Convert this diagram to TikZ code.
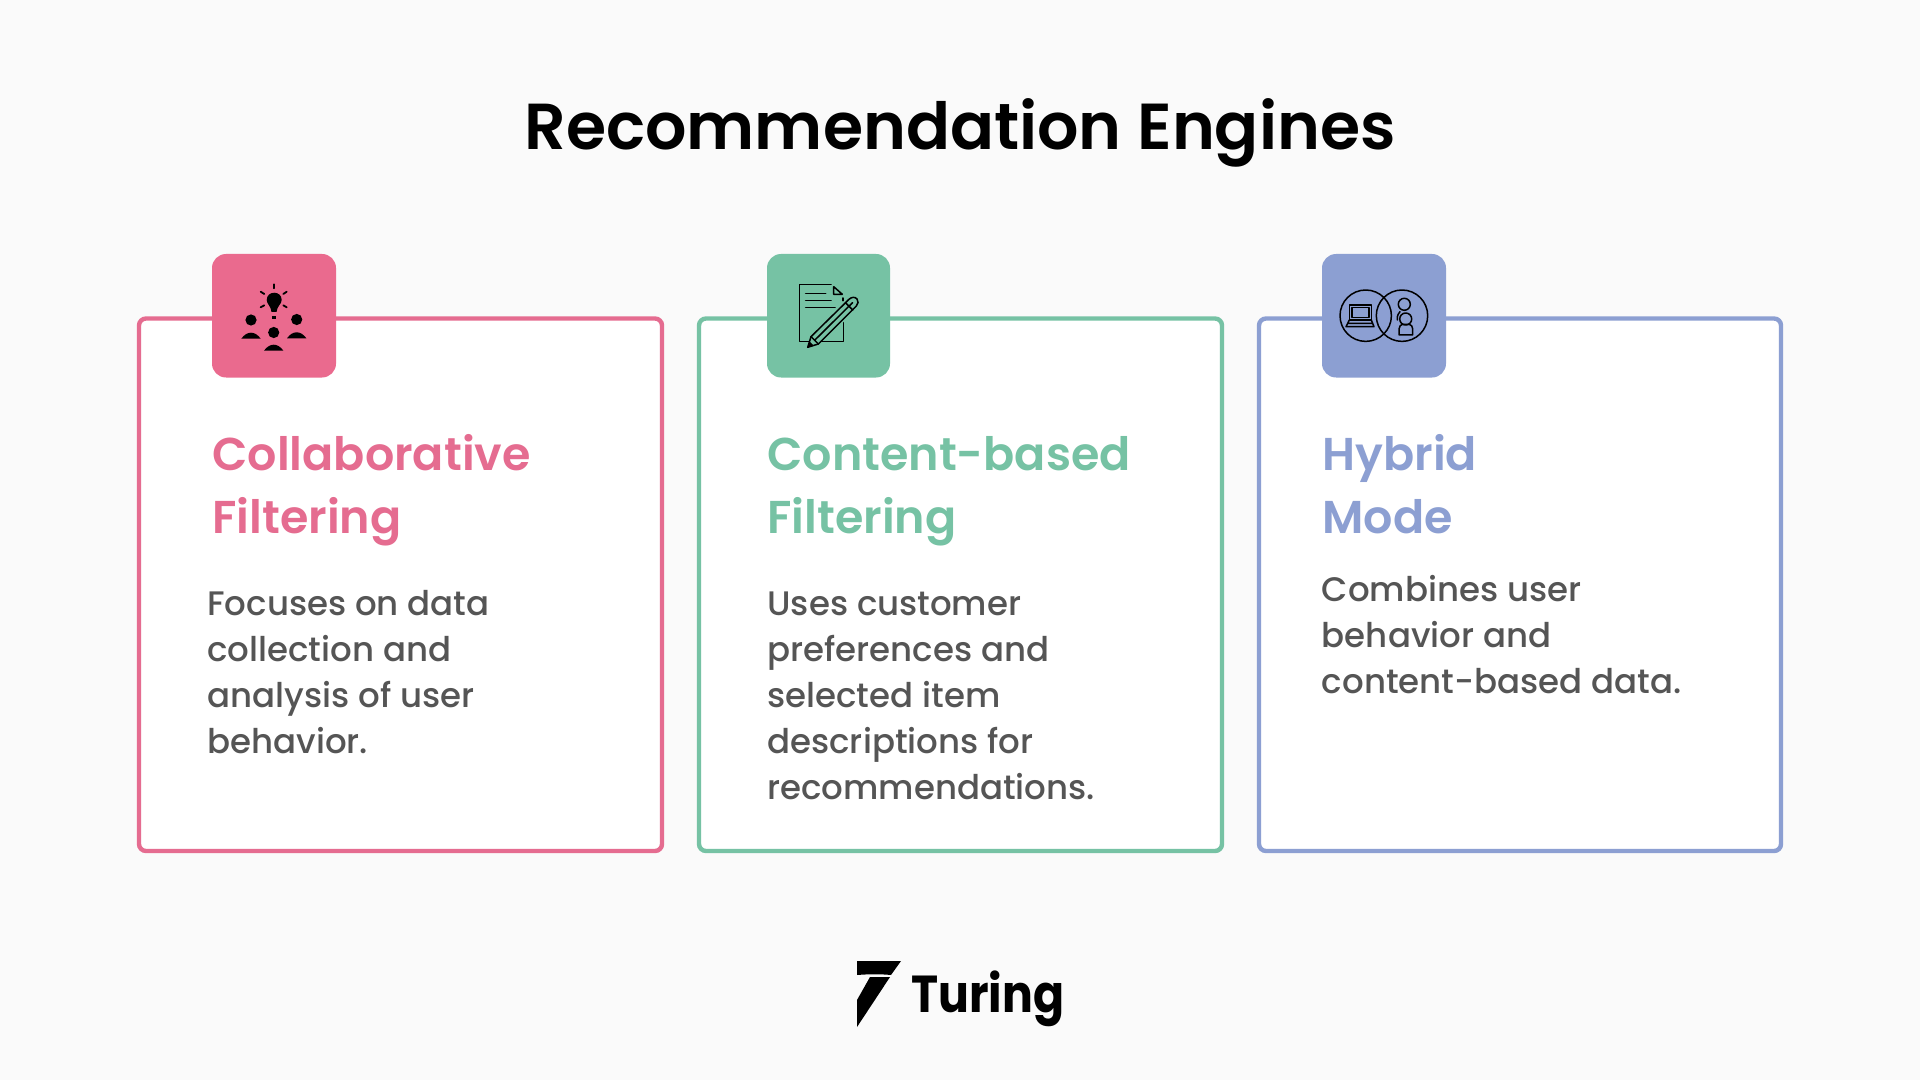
\documentclass[tikz,border=0pt]{standalone}
\usepackage{fontspec}
\setmainfont{Poppins}
\newfontfamily\semibold{Poppins SemiBold}
\newfontfamily\medium{Poppins Medium}
\newfontfamily\logofont[FakeStretch=0.88]{Poppins Bold}
\definecolor{bgcol}{HTML}{FAFAFA}
\definecolor{pinkcol}{HTML}{E56C90}
\definecolor{pinkbox}{HTML}{EA6A8E}
\definecolor{greencol}{HTML}{76C2A4}
\definecolor{bluecol}{HTML}{8C9FD2}
\definecolor{bodycol}{HTML}{555555}
\tikzset{
	cardbox/.style={fill=white,line width=2.2pt,rounded corners=3.5pt},
	iconbox/.style={rounded corners=7pt},
	headtext/.style={anchor=base west,inner sep=0pt,font=\semibold\fontsize{23}{26}\selectfont,align=left},
	bodytext/.style={anchor=base west,inner sep=0pt,font=\medium\fontsize{17}{23}\selectfont,text=bodycol,align=left},
	iconline/.style={line width=0.75pt,line join=round,line cap=round},
}
\begin{document}
\begin{tikzpicture}[x=0.5pt,y=-0.5pt]
	\useasboundingbox (0,0) rectangle (1920,1080);
	\fill[bgcol] (0,0) rectangle (1920,1080);
	\node[anchor=base,inner sep=0pt,font=\semibold\fontsize{32.5}{36}\selectfont] (title) at (960,150) {Recommendation Engines};
	% cards
	\draw[cardbox,draw=pinkcol] (139,318.5) rectangle (662,851);
	\draw[cardbox,draw=greencol] (699,318.5) rectangle (1222,851);
	\draw[cardbox,draw=bluecol] (1259,318.5) rectangle (1781,851);
	\fill[iconbox,pinkbox] (212,254) rectangle (336,377.5);
	\fill[iconbox,greencol] (767,254) rectangle (890,377.5);
	\fill[iconbox,bluecol] (1322,254) rectangle (1446,377.5);
	% headings
	\node[headtext,text=pinkcol] (headone) at (212,470) {Collaborative};
	\node[headtext,text=pinkcol] (headoneb) at (212,533) {Filtering};
	\node[headtext,text=greencol] (headtwo) at (767,470) {Content-based};
	\node[headtext,text=greencol] (headtwob) at (767,533) {Filtering};
	\node[headtext,text=bluecol] (headthree) at (1322,470) {Hybrid};
	\node[headtext,text=bluecol] (headthreeb) at (1322,533) {Mode};
	% body text
	\node[bodytext] (bodyone) at (207,615) {Focuses on data};
	\node[bodytext] (bodyoneb) at (207,661) {collection and};
	\node[bodytext] (bodyonec) at (207,707) {analysis of user};
	\node[bodytext] (bodyoned) at (207,753) {behavior.};
	\node[bodytext] (bodytwo) at (767,615) {Uses customer};
	\node[bodytext] (bodytwob) at (767,661) {preferences and};
	\node[bodytext] (bodytwoc) at (767,707) {selected item};
	\node[bodytext] (bodytwod) at (767,753) {descriptions for};
	\node[bodytext] (bodytwoe) at (767,799) {recommendations.};
	\node[bodytext] (bodythree) at (1321.5,601) {Combines user};
	\node[bodytext] (bodythreeb) at (1321.5,647) {behavior and};
	\node[bodytext] (bodythreec) at (1321.5,693) {content-based data.};
	% icon one: bulb and people
	\fill (266.7,300) .. controls (266.7,290.3) and (281.7,290.3) .. (281.7,300) .. controls (281.7,304) and (277,306) .. (276.5,312) -- (271.5,312) .. controls (271,306) and (266.7,304) .. (266.7,300) -- cycle;
	\fill (271.5,316) rectangle (276,319.5);
	\foreach \a/\b/\c/\d in {274/284.3/274/288.3, 260.7/291.7/264.3/294, 286.7/291.7/283.3/294, 260.7/307.3/264.3/305.3, 286.7/307.3/283.3/305.3}
		\draw[iconline,line width=0.9pt] (\a,\b)--(\c,\d);
	\foreach \px/\py in {251/320,296.7/319.5,273.7/332.5}
		\fill (\px,\py) circle[radius=5.6];
	\foreach \px/\py in {251/338.7,296.7/338.3,273.7/350.7}
		\fill (\px-9.7,\py) .. controls (\px-4,\py-8) and (\px+4,\py-8) .. (\px+9.7,\py) -- cycle;
	% icon two: sheet and pencil
	\draw[iconline] (831,284.3) -- (799.7,284.3) -- (799.7,341.7) -- (843.7,341.7) -- (843.7,322.7);
	\draw[iconline] (843.2,298) -- (843.2,300.7);
	\draw[iconline] (833.7,286.7) -- (833.7,294.3) -- (842.3,294.3) -- cycle;
	\draw[iconline] (805.7,293.3) -- (825.7,293.3) (805.7,300.7) -- (831,300.7) (805.7,307.7) -- (835,307.7);
	\draw[iconline,fill=greencol] (807.7,347.3) -- (811,336.7) -- (849,299.3) .. controls (851.5,297) and (855,296.5) .. (857,299) .. controls (858.5,301) and (858.5,304) .. (856.3,306) -- (818.3,344) -- cycle;
	\draw[iconline] (811,336.7) -- (818.3,344) (814.6,340.3) -- (852.6,302.6) (845.5,302.8) -- (852.8,310);
	\fill (807.7,347.3) -- (809.5,341.5) -- (813.5,345.5) -- cycle;
	% icon three: laptop and people in two rings
	\draw[iconline] (1365.7,315.7) circle[radius=25.7];
	\draw[iconline] (1402,315.7) circle[radius=25.7];
	\draw[iconline] (1349.3,305) rectangle (1371.3,320);
	\draw[iconline] (1351.8,307.5) rectangle (1368.8,317.5);
	\draw[iconline] (1349.3,320) -- (1346,326.7) -- (1374,326.7) -- (1371.3,320) (1348,323.3) -- (1372,323.3);
	\draw[iconline] (1404.3,304.3) circle[radius=6];
	\draw[iconline] (1400,311.7) .. controls (1397,315) and (1397,318) .. (1397.3,320);
	\draw[iconline,fill=bluecol] (1405.7,319) circle[radius=6];
	\draw[iconline] (1399,335) -- (1399,329) .. controls (1399,326) and (1401,325) .. (1402,324.5) -- (1409.5,324.5) .. controls (1411,325) and (1412.7,326) .. (1412.7,329) -- (1412.7,335) -- cycle;
	% logo
	\fill (857,961) -- (901,961) -- (891,975) .. controls (880,974) and (870,974) .. (857,975) -- cycle;
	\fill (870,977) -- (890,977) -- (857,1027) -- (857,1000) -- cycle;
	\node[anchor=base west,inner sep=0pt,font=\logofont\fontsize{26}{30}\selectfont] (logotext) at (911,1012) {Turing};
\end{tikzpicture}
\end{document}
